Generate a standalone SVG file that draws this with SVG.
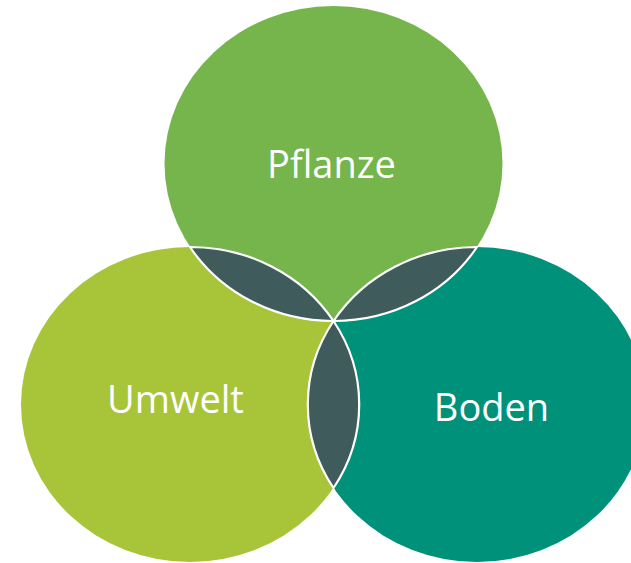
<svg xmlns="http://www.w3.org/2000/svg" width="631" height="563" viewBox="0 0 631 563">
  <style>
    .lbl { font-family: "Open Sans", "Noto Sans", "Liberation Sans", sans-serif; font-size: 38px; fill: #ffffff; text-anchor: middle; }
    .lens { fill: #405b5b; stroke: #ffffff; stroke-width: 2.2; stroke-linejoin: round; }
  </style>
  <rect width="631" height="563" fill="#ffffff"/>
  <g id="pflanze">
    <ellipse cx="333.5" cy="163.5" rx="169" ry="157.5" fill="#75b54b"/>
  </g>
  <g id="umwelt">
    <ellipse cx="190" cy="404.5" rx="169" ry="157.5" fill="#a8c539"/>
  </g>
  <g id="boden">
    <ellipse cx="477" cy="404.5" rx="169" ry="157.5" fill="#00917a"/>
  </g>
  <g id="overlaps">
    <path class="lens" d="M190,247 A169,157.5 0 0 0 333.5,321 A169,157.5 0 0 0 190,247 Z"/>
    <path class="lens" d="M477,247 A169,157.5 0 0 1 333.5,321 A169,157.5 0 0 1 477,247 Z"/>
    <path class="lens" d="M333.5,321 A169,157.5 0 0 1 333.5,488 A169,157.5 0 0 1 333.5,321 Z"/>
  </g>
  <g id="labels">
    <text class="lbl" x="331.5" y="177.5">Pflanze</text>
    <text class="lbl" x="175.5" y="413">Umwelt</text>
    <text class="lbl" x="491.5" y="420.5">Boden</text>
  </g>
</svg>
